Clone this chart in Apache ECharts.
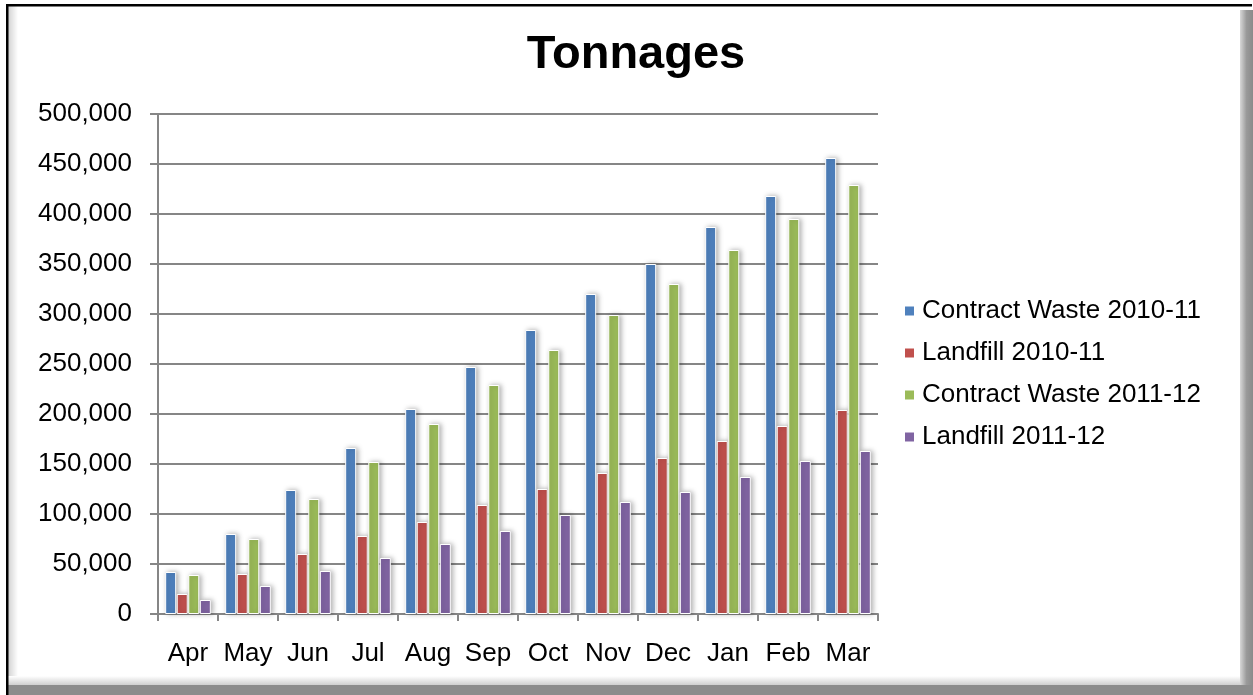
<!DOCTYPE html>
<html>
<head>
<meta charset="utf-8">
<title>Tonnages</title>
<script src="https://cdn.jsdelivr.net/npm/echarts@6/dist/echarts.min.js"></script>
<style>
  html, body { margin: 0; padding: 0; background: #fff; }
  #chart { width: 1253px; height: 695px; }
</style>
</head>
<body>
<div id="chart"></div>
<script>
// data
const months = ["Apr", "May", "Jun", "Jul", "Aug", "Sep", "Oct", "Nov", "Dec", "Jan", "Feb", "Mar"];
const contractWaste1011 = [42000, 80000, 124000, 166000, 205000, 247000, 284000, 320000, 350000, 387000, 418000, 456000];
const landfill1011 = [20000, 40000, 60000, 78000, 92000, 109000, 125000, 141000, 156000, 173000, 188000, 204000];
const contractWaste1112 = [39000, 75000, 115000, 152000, 190000, 229000, 264000, 299000, 330000, 364000, 395000, 429000];
const landfill1112 = [14000, 28000, 43000, 56000, 70000, 83000, 99000, 112000, 122000, 137000, 153000, 163000];
const seriesNames = ["Contract Waste 2010-11", "Landfill 2010-11", "Contract Waste 2011-12", "Landfill 2011-12"];
const colors = ["#4F81BD", "#C0504D", "#9BBB59", "#8064A2"];

const FONT = "'Liberation Sans', Arial, sans-serif";

const chart = echarts.init(document.getElementById("chart"));

function barSeries(name, data, color) {
  return {
    name: name,
    type: "bar",
    data: data,
    barWidth: 11,
    barGap: "5%",
    itemStyle: {
      color: color,
      borderColor: "#fff",
      borderWidth: 1,
      shadowBlur: 5,
      shadowColor: "rgba(0,0,0,0.3)",
      shadowOffsetX: 2
    },
    emphasis: { disabled: true }
  };
}

// picture frame: black top/left, grey bevel right/bottom
const frame = [
  { type: "rect", shape: { x: 8, y: 6, width: 10, height: 680 },
    style: { fill: { type: "linear", x: 0, y: 0, x2: 1, y2: 0,
      colorStops: [{ offset: 0, color: "#d2d2d2" }, { offset: 1, color: "#ffffff" }] } } },
  { type: "rect", shape: { x: 8, y: 676, width: 1234, height: 9 },
    style: { fill: { type: "linear", x: 0, y: 0, x2: 0, y2: 1,
      colorStops: [{ offset: 0, color: "#ffffff" }, { offset: 1, color: "#cfcfcf" }] } } },
  { type: "rect", shape: { x: 1240, y: 10, width: 13, height: 685 },
    style: { fill: { type: "linear", x: 0, y: 0, x2: 1, y2: 0,
      colorStops: [{ offset: 0, color: "#d8d8d8" }, { offset: 0.5, color: "#9a9a9a" }, { offset: 1, color: "#8a8a8a" }] } } },
  { type: "rect", shape: { x: 8, y: 685, width: 1245, height: 10 },
    style: { fill: "#8c8c8c" } },
  { type: "rect", shape: { x: 6, y: 4, width: 1246, height: 2.5 }, style: { fill: "#000" } },
  { type: "rect", shape: { x: 6, y: 4, width: 2.5, height: 691 }, style: { fill: "#000" } }
];

const option = {
  animation: false,
  backgroundColor: "#fff",
  title: {
    text: "Tonnages",
    left: 631,
    top: 27,
    textAlign: "center",
    textStyle: { fontFamily: FONT, fontSize: 47, fontWeight: "bold", color: "#000" }
  },
  legend: {
    orient: "vertical",
    left: 898,
    top: 293,
    itemWidth: 11,
    itemHeight: 11,
    itemGap: 16,
    icon: "rect",
    data: seriesNames,
    textStyle: { fontFamily: FONT, fontSize: 26, color: "#000", padding: [0, 0, 0, 2] }
  },
  grid: { left: 158, right: 375, top: 114, bottom: 81, containLabel: false },
  xAxis: {
    type: "category",
    data: months,
    axisLine: { lineStyle: { color: "#868686", width: 2 } },
    axisTick: { show: true, length: 7, lineStyle: { color: "#868686", width: 2 } },
    axisLabel: { interval: 0, fontFamily: FONT, fontSize: 26, color: "#000", margin: 27 }
  },
  yAxis: {
    type: "value",
    min: 0,
    max: 500000,
    interval: 50000,
    axisLine: { show: true, lineStyle: { color: "#868686", width: 2 } },
    axisTick: { show: true, length: 8, lineStyle: { color: "#868686", width: 2 } },
    splitLine: { lineStyle: { color: "#868686", width: 2 } },
    axisLabel: {
      fontFamily: FONT, fontSize: 26, color: "#000", margin: 26,
      formatter: v => v.toLocaleString("en-US")
    }
  },
  graphic: frame,
  series: [
    barSeries(seriesNames[0], contractWaste1011, colors[0]),
    barSeries(seriesNames[1], landfill1011, colors[1]),
    barSeries(seriesNames[2], contractWaste1112, colors[2]),
    barSeries(seriesNames[3], landfill1112, colors[3])
  ]
};

chart.setOption(option);
</script>
</body>
</html>
